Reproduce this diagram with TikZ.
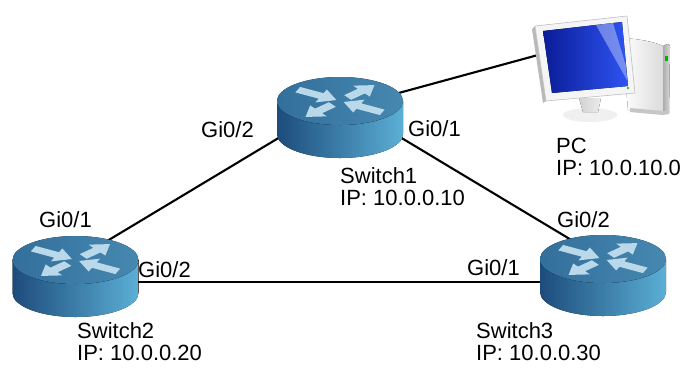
\documentclass[tikz,border=0pt]{standalone}
\usepackage{fontspec}
\setmainfont{Liberation Sans}
\begin{document}
\begin{tikzpicture}[x=1pt,y=-1pt]
\definecolor{rsideA}{HTML}{1D4C7C}
\definecolor{rsideB}{HTML}{5BAFD5}
\definecolor{rtopA}{HTML}{336F9B}
\definecolor{rtopB}{HTML}{4688B0}
\definecolor{rarrow}{HTML}{B9D9EA}
\definecolor{scrA}{HTML}{0A1C98}
\definecolor{scrB}{HTML}{2E54F2}
\tikzset{
  link/.style={line width=2.1pt, black},
  lbl/.style={font=\fontsize{22}{26}\selectfont, inner sep=0pt, anchor=base west},
  router/.pic={
    % cylinder body
    \fill[left color=rsideA, right color=rsideB]
      (-63,0) -- (-63,33) arc[start angle=180, end angle=0, x radius=63, y radius=24]
      -- (63,0) -- cycle;
    % top face
    \fill[left color=rtopA, right color=rtopB] (0,0) ellipse[x radius=63, y radius=24];
    % four arrows on the top face: out to the upper right and lower left,
    % in from the upper left and lower right (angles are page angles)
    \begin{scope}[yscale=0.55]
      \foreach \a in {40,220}
        \fill[rarrow, rotate=\a] (10,-5.5) -- (28,-5.5) -- (28,-13) -- (45,0)
          -- (28,13) -- (28,5.5) -- (10,5.5) -- cycle;
      \foreach \a in {-26,154}
        \fill[rarrow, rotate=\a] (47,-5.5) -- (21,-5.5) -- (21,-13) -- (4,0)
          -- (21,13) -- (21,5.5) -- (47,5.5) -- cycle;
    \end{scope}
  }
}
\useasboundingbox (0,0) rectangle (684,368);
\fill[white] (0,0) rectangle (684,368);

% anchor points of the devices
\coordinate (s1) at (340,101);
\coordinate (s2) at (75.5,260);
\coordinate (s3) at (603,259);
\coordinate (s1pc) at (340,109);
\coordinate (pc) at (560,49);
\coordinate (s2e) at (75,282);
\coordinate (s3w) at (603,282);

% links
\draw[link] (s2) -- (s1);
\draw[link] (s1) -- (s3);
\draw[link] (s2e) -- (s3w);
\draw[link] (s1pc) -- (pc);

% switches
\pic (r1) at (s1) {router};
\pic (r2) at (s2) {router};
\pic (r3) at (s3) {router};

% PC: tower
\fill[left color=white, right color=gray!28] (622,38) .. controls (640,39) and (655,42) .. (663,46)
  -- (663,113) -- (628,110) -- cycle;
\fill[left color=gray!65, right color=gray!30] (663,46) -- (667,44) .. controls (669,44) and (670,45) .. (670,47) -- (669,113) -- (663,113) -- cycle;
\fill[green!70!black] (664.5,56) rectangle (667.5,61);
\fill[gray!45] (630,108) -- (663,111) -- (669,111) -- (669,114) -- (663,115) -- (630,112) -- cycle;
% PC: stand
\fill[gray!12] (590,115) ellipse[x radius=27, y radius=7];
\fill[left color=gray!35, right color=gray!15] (579,98) -- (601,98) -- (598,112) -- (583,112) -- cycle;
% PC: monitor
\fill[gray!55] (532,29) -- (535,26) -- (546,101) -- (543,103) -- cycle;
\fill[gray!8] (535,26) -- (627,16) -- (635,93) -- (546,101) -- cycle;
\draw[gray!50, line width=0.6pt] (535,26) -- (627,16) -- (635,93) -- (546,101) -- cycle;
\fill[left color=scrA, right color=scrB] (543,31) -- (622,22) -- (628,86) -- (552,93) -- cycle;
\fill[white, opacity=0.35] (596,25) -- (613,23) -- (626,66) -- (627,80) -- cycle;
\fill[green!70!black] (628,88) circle[radius=1.2];

% labels
\node[lbl] (s1p2) at (201,137) {Gi0/2};
\node[lbl] (s1p1) at (408,136) {Gi0/1};
\node[lbl] (s1name) at (340,183) {Switch1};
\node[lbl] (s1ip) at (340,205) {IP: 10.0.0.10};
\node[lbl] (pcname) at (556,153) {PC};
\node[lbl] (pcip) at (556,175) {IP: 10.0.10.0};
\node[lbl] (s2p1) at (39,227) {Gi0/1};
\node[lbl] (s2p2) at (138,277) {Gi0/2};
\node[lbl] (s3p2) at (557,227) {Gi0/2};
\node[lbl] (s3p1) at (467,275) {Gi0/1};
\node[lbl] (s2name) at (77,338) {Switch2};
\node[lbl] (s2ip) at (77,360) {IP: 10.0.0.20};
\node[lbl] (s3name) at (476,338) {Switch3};
\node[lbl] (s3ip) at (476,360) {IP: 10.0.0.30};
\end{tikzpicture}
\end{document}
